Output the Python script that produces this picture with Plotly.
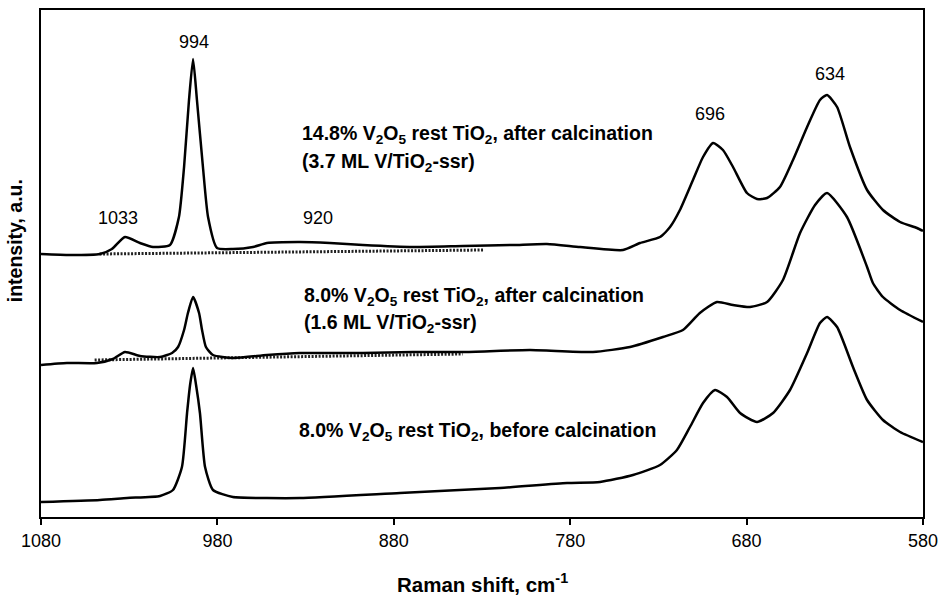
import plotly.graph_objects as go

# Raman spectra (wavenumber cm-1, intensity a.u.)
w_top = [1080, 1063.6, 1046.6, 1039.8, 1032.4, 1023.9, 1016.5, 1006.9, 1001.8, 998.9, 996.1,
         993.8, 991.6, 988.2, 985.3, 980.2, 971.2, 959.8, 951.9, 933.2, 916.2, 897.5, 869.1,
         840.8, 812.4, 793.2, 774.4, 750.1, 740.4, 729.1, 723.4, 717.8, 710.4, 704.7, 699.0,
         693.4, 687.7, 679.8, 674.1, 668.4, 661.1, 653.7, 645.7, 638.4, 634.4, 628.7, 621.4,
         611.7, 602.7, 593.0, 583.4, 580]
i_top = [262, 261, 262, 267, 279, 273, 269, 271, 299, 349, 416,
         457, 416, 349, 299, 268, 267, 269, 273, 274, 273, 271, 269,
         270, 271, 272, 269, 266, 273, 279, 289, 306, 336, 359, 373,
         366, 349, 323, 317, 318, 329, 356, 389, 416, 421, 409, 369,
         326, 306, 294, 288, 285]

w_mid = [1080, 1065.3, 1048.3, 1039.2, 1032.4, 1023.9, 1012.5, 1005.7, 1002.3, 998.9, 996.7,
         993.8, 990.4, 988.7, 986.5, 982.5, 971.2, 951.9, 933.2, 916.2, 897.5, 869.1, 840.8,
         802.8, 767.1, 746.1, 727.4, 716.1, 706.5, 696.8, 687.7, 678.1, 668.4, 659.4, 649.7,
         641.2, 634.4, 623.1, 611.7, 608.4, 602.7, 593.0, 580]
i_mid = [151, 153, 153, 157, 164, 160, 159, 163, 169, 186, 203,
         219, 203, 186, 169, 161, 158, 161, 163, 163, 163, 164, 164,
         166, 164, 169, 179, 186, 203, 214, 211, 209, 214, 236, 283,
         311, 323, 299, 249, 233, 219, 206, 194]

w_bot = [1080, 1046.6, 1031.2, 1012.5, 1005.2, 1000.1, 997.2, 995.5, 993.8, 992.1, 989.9,
         987.0, 982.5, 971.2, 951.9, 933.2, 876.5, 819.8, 781.8, 763.1, 744.4, 729.1, 719.5,
         712.1, 704.7, 697.9, 691.1, 683.7, 674.1, 665.0, 655.4, 645.7, 638.4, 634.4, 628.7,
         619.7, 611.7, 602.7, 593.0, 580]
i_bot = [14, 16, 18, 20, 26, 49, 103, 131, 148, 131, 103,
         49, 26, 19, 18, 18, 23, 28, 33, 34, 41, 51, 66,
         89, 113, 126, 119, 103, 94, 103, 126, 163, 193, 199, 189,
         149, 116, 96, 84, 74]

# dotted baselines
w_base_top = [1046.8, 828.6]
i_base_top = [262, 266]
w_base_mid = [1049.6, 841.0]
i_base_mid = [156, 162]

peak_labels = ["994", "1033", "920", "696", "634"]
peak_x = [993.5, 1036.6, 923.2, 701.0, 633.0]
peak_y = [474, 298, 298, 402, 442]

sample_labels = [
    "14.8% V<sub>2</sub>O<sub>5</sub> rest TiO<sub>2</sub>, after calcination",
    "(3.7 ML V/TiO<sub>2</sub>-ssr)",
    "8.0% V<sub>2</sub>O<sub>5</sub> rest TiO<sub>2</sub>, after calcination",
    "(1.6 ML V/TiO<sub>2</sub>-ssr)",
    "8.0% V<sub>2</sub>O<sub>5</sub> rest TiO<sub>2</sub>, before calcination",
]
sample_x = [932.9, 932.9, 931.8, 931.8, 934.6]
sample_y = [382, 354, 220, 193, 85]

x_ticks = [1080, 980, 880, 780, 680, 580]

FONT = "Liberation Sans, Arial, sans-serif"

fig = go.Figure()
for w, i in [(w_base_top, i_base_top), (w_base_mid, i_base_mid)]:
    fig.add_trace(go.Scatter(x=w, y=i, mode="lines",
                             line=dict(color="#222", width=3, dash="2px,1.5px"),
                             showlegend=False, hoverinfo="skip"))
for w, i in [(w_top, i_top), (w_mid, i_mid), (w_bot, i_bot)]:
    fig.add_trace(go.Scatter(x=w, y=i, mode="lines",
                             line=dict(color="black", width=2.5, shape="spline", smoothing=0.55),
                             showlegend=False, cliponaxis=False))

annotations = []
for t, x, y in zip(peak_labels, peak_x, peak_y):
    annotations.append(dict(x=x, y=y, xref="x", yref="y", text=t, showarrow=False,
                            xanchor="center", yanchor="middle",
                            font=dict(family=FONT, size=18, color="black")))
for t, x, y in zip(sample_labels, sample_x, sample_y):
    annotations.append(dict(x=x, y=y, xref="x", yref="y", text="<b>" + t + "</b>",
                            showarrow=False, xanchor="left", yanchor="middle",
                            font=dict(family=FONT, size=19.5, color="black")))
annotations.append(dict(x=0.5, y=-0.13, xref="paper", yref="paper",
                        text="<b>Raman shift, cm<sup>-1</sup></b>", showarrow=False,
                        xanchor="center", yanchor="middle",
                        font=dict(family=FONT, size=20.5, color="black")))
annotations.append(dict(x=-0.03, y=0.545, xref="paper", yref="paper",
                        text="<b>intensity, a.u.</b>", showarrow=False, textangle=-90,
                        xanchor="center", yanchor="middle",
                        font=dict(family=FONT, size=19.5, color="black")))

fig.update_layout(
    width=940, height=595,
    margin=dict(l=41, r=17, t=10, b=78, autoexpand=False),
    paper_bgcolor="white", plot_bgcolor="white",
    font=dict(family=FONT, size=18, color="black"),
    annotations=annotations,
    xaxis=dict(range=[1080, 580], tickvals=x_ticks, ticktext=[str(v) for v in x_ticks],
               ticks="outside", ticklen=6, tickwidth=1.5, tickcolor="black",
               showline=True, linecolor="black", linewidth=2, mirror=True,
               showgrid=False, zeroline=False, automargin=False,
               tickfont=dict(family=FONT, size=18)),
    yaxis=dict(range=[-1, 506], showticklabels=False, ticks="",
               showline=True, linecolor="black", linewidth=2, mirror=True,
               showgrid=False, zeroline=False, automargin=False),
)

fig.write_html("out.html")
